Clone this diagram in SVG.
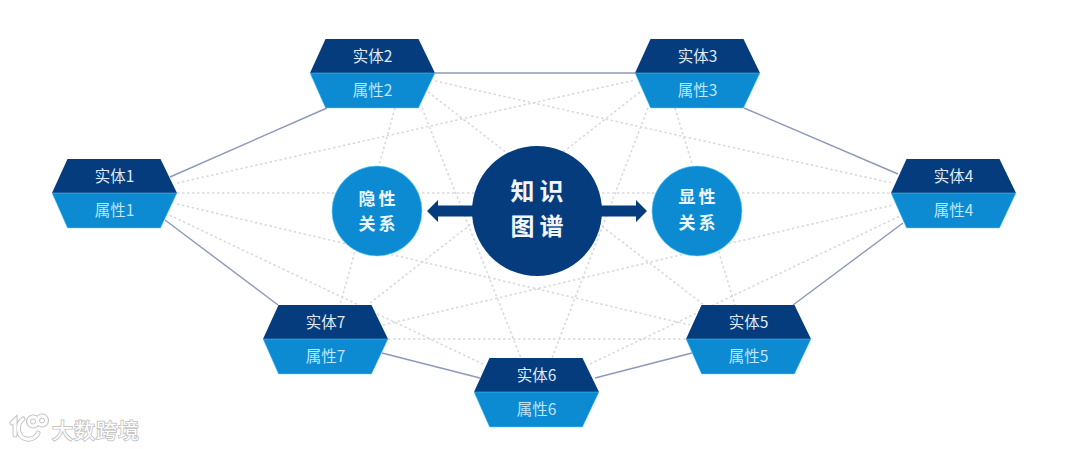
<svg xmlns="http://www.w3.org/2000/svg" width="1080" height="449" viewBox="0 0 1080 449">
<style>
text{font-family:"Noto Sans CJK SC","Liberation Sans",sans-serif;text-anchor:middle}
.top{fill:#053c7e}
.bot{fill:#0c8bd3;stroke:#5fd0f7;stroke-width:.8;stroke-opacity:.6}
.t{fill:#dfeaf6;font-size:15.5px}
.b{fill:#bfe6fb;font-size:15.5px}
.solid{stroke:#8c99b8;stroke-width:1.4;fill:none}
.dash{stroke:#d9d9e0;stroke-width:1.6;stroke-dasharray:2.5 2.5;fill:none}
.sm{fill:#0c8bd3;stroke:#5fd0f7;stroke-width:1;stroke-opacity:.6}
.smt{fill:#eaf5fc;font-size:17px;font-weight:700;letter-spacing:3px}
.bigt{fill:#f2f6fa;font-size:24px;font-weight:700;letter-spacing:5px}
.arrow{fill:#053c7e}
.wm{fill:#fff;stroke:#c4c4c4;stroke-width:1.8;paint-order:stroke;font-size:21px;letter-spacing:1px;text-anchor:start}
.lg{fill:none;stroke-linecap:round}
</style>
<defs>
<g id="hex">
<path class="top" d="M-47 -34H46L62.500 0H-62.500Z"/>
<path class="bot" d="M-62.500 0H62.500L46 35H-47Z"/>
</g>
</defs>
<rect width="1080" height="449" fill="#fff"/>
<g id="connectors">
<path class="solid" d="M327 108L170 177"/>
<path class="solid" d="M435 73H635" stroke="#8f98c6"/>
<path class="solid" d="M744 108L898 174"/>
<path class="solid" d="M903 223L793 305"/>
<path class="solid" d="M692 353L595 378"/>
<path class="solid" d="M480 378L382 353"/>
<path class="solid" d="M278 305L165 220"/>
<path class="dash" d="M177 183L635 80"/>
<path class="dash" d="M177 193H891"/>
<path class="dash" d="M177 204L690 325"/>
<path class="dash" d="M165 213L487 366"/>
<path class="dash" d="M435 81L892 183"/>
<path class="dash" d="M428 92L704 305"/>
<path class="dash" d="M422 108L521 358"/>
<path class="dash" d="M395 108L340 305"/>
<path class="dash" d="M640 92L370 303"/>
<path class="dash" d="M648 108L552 358"/>
<path class="dash" d="M675 108L735 305"/>
<path class="dash" d="M383 325L893 205"/>
<path class="dash" d="M590 364L900 216"/>
<path class="dash" d="M388 339H686"/>
</g>
<g id="node1"><use href="#hex" x="114.500" y="193"/><text class="t" x="114.500" y="182">实体1</text><text class="b" x="114.500" y="216">属性1</text></g>
<g id="node2"><use href="#hex" x="372.500" y="73"/><text class="t" x="372.500" y="62">实体2</text><text class="b" x="372.500" y="96">属性2</text></g>
<g id="node3"><use href="#hex" x="697.500" y="73"/><text class="t" x="697.500" y="62">实体3</text><text class="b" x="697.500" y="96">属性3</text></g>
<g id="node4"><use href="#hex" x="953.500" y="193"/><text class="t" x="953.500" y="182">实体4</text><text class="b" x="953.500" y="216">属性4</text></g>
<g id="node5"><use href="#hex" x="748.500" y="339"/><text class="t" x="748.500" y="328">实体5</text><text class="b" x="748.500" y="362">属性5</text></g>
<g id="node6"><use href="#hex" x="536.500" y="392"/><text class="t" x="536.500" y="381">实体6</text><text class="b" x="536.500" y="415">属性6</text></g>
<g id="node7"><use href="#hex" x="325.500" y="339"/><text class="t" x="325.500" y="328">实体7</text><text class="b" x="325.500" y="362">属性7</text></g>
<g id="arrows">
<path class="arrow" d="M427 211L438 200V205.500H480V216.500H438V222Z"/>
<path class="arrow" d="M647 211L636 200V205.500H590V216.500H636V222Z"/>
</g>
<g id="implicit"><circle class="sm" cx="377" cy="211" r="45"/><text class="smt" x="378.500" y="205">隐性</text><text class="smt" x="378.500" y="230">关系</text></g>
<g id="explicit"><circle class="sm" cx="697" cy="211" r="45"/><text class="smt" x="698.500" y="203">显性</text><text class="smt" x="698.500" y="229">关系</text></g>
<g id="center"><circle cx="537" cy="211" r="65" fill="#053c7e"/><text class="bigt" x="539.500" y="200">知识</text><text class="bigt" x="539.500" y="235">图谱</text></g>
<g id="watermark">
<path class="lg" stroke="#c4c4c4" stroke-width="5" d="M12 423L15 420V435M23 419C16 424 17 438 27 439C33 440 37 436 38 433M33 417a4.500 4.500 0 1 0 .1 0M42 416a4.500 4.500 0 1 0 .1 0"/>
<path class="lg" stroke="#fff" stroke-width="3" d="M12 423L15 420V435M23 419C16 424 17 438 27 439C33 440 37 436 38 433M33 417a4.500 4.500 0 1 0 .1 0M42 416a4.500 4.500 0 1 0 .1 0"/>
<text class="wm" x="52" y="438">大数跨境</text>
</g>
</svg>
